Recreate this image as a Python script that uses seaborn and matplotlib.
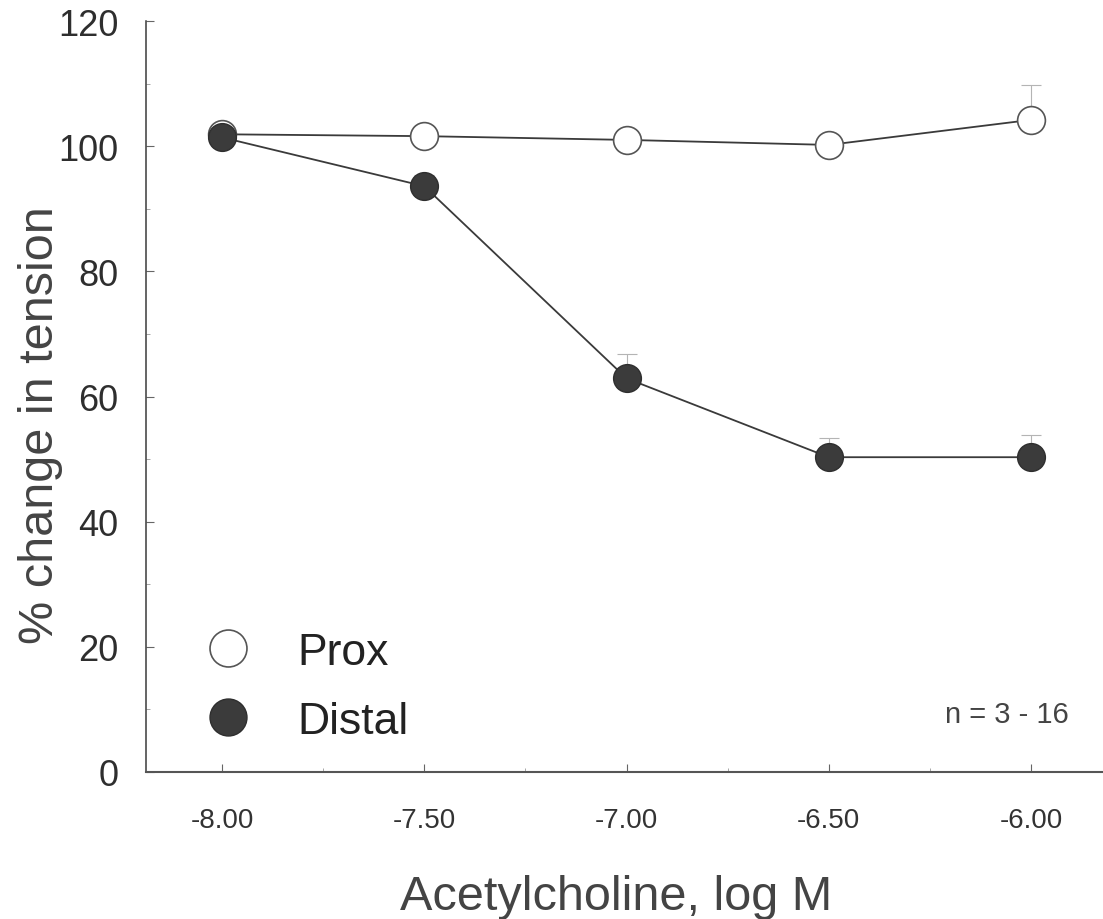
import matplotlib
matplotlib.use("Agg")
import matplotlib.pyplot as plt
import seaborn as sns
import pandas as pd
from matplotlib.lines import Line2D
from matplotlib.ticker import MultipleLocator, FixedLocator

# Acetylcholine concentration-response, proximal vs distal segments
log_conc = [-8.0, -7.5, -7.0, -6.5, -6.0]
prox_mean = [101.9, 101.6, 101.0, 100.2, 104.2]
prox_sem = [1.5, 1.2, 1.5, 1.5, 5.5]
distal_mean = [101.4, 93.6, 62.9, 50.3, 50.3]
distal_sem = [1.5, 1.8, 3.9, 3.1, 3.5]

x_ticks = [-8.0, -7.5, -7.0, -6.5, -6.0]
x_tick_labels = ["-8.00", "-7.50", "-7.00", "-6.50", "-6.00"]
y_ticks = [0, 20, 40, 60, 80, 100, 120]
series_labels = ["Prox", "Distal"]
n_note = "n = 3 - 16"

prox = pd.DataFrame({"log_conc": log_conc, "mean": prox_mean, "sem": prox_sem})
distal = pd.DataFrame({"log_conc": log_conc, "mean": distal_mean, "sem": distal_sem})

sns.set_theme(style="ticks")
plt.rcParams["font.family"] = ["Liberation Sans", "DejaVu Sans"]

W, H = 1103, 920
fig = plt.figure(figsize=(W / 100, H / 100), dpi=100)
fig.patch.set_facecolor("white")
ax = fig.add_axes([146 / W, (H - 773) / H, 957 / W, (773 - 22) / H])
ax.set_facecolor("white")

line_col = "#3a3a3a"
err_col = "#b4b4b4"

# upper error bars only (faint caps above the markers)
for df in (prox, distal):
    ax.errorbar(df["log_conc"], df["mean"],
                yerr=[[0] * len(df), df["sem"]],
                fmt="none", ecolor=err_col, elinewidth=0.8,
                capsize=7, capthick=0.8, zorder=1)

sns.lineplot(data=prox, x="log_conc", y="mean", ax=ax, color=line_col,
             linewidth=1.3, marker="o", markersize=20,
             markerfacecolor="white", markeredgecolor="#555555",
             markeredgewidth=1.2, zorder=3)
sns.lineplot(data=distal, x="log_conc", y="mean", ax=ax, color=line_col,
             linewidth=1.3, marker="o", markersize=20,
             markerfacecolor="#3b3b3b", markeredgecolor="#2e2e2e",
             markeredgewidth=1.0, zorder=4)

ax.set_xlim(-8.188, -5.822)
ax.set_ylim(0, 120)
ax.xaxis.set_major_locator(FixedLocator(x_ticks))
ax.set_xticklabels(x_tick_labels)
ax.xaxis.set_minor_locator(MultipleLocator(0.25))
ax.yaxis.set_major_locator(FixedLocator(y_ticks))
ax.yaxis.set_minor_locator(MultipleLocator(10))

ax.set_xlabel("")
ax.set_ylabel("")

for side in ("top", "right"):
    ax.spines[side].set_visible(False)
ax.spines["left"].set_color("#3a3a3a")
ax.spines["left"].set_linewidth(1.1)
ax.spines["bottom"].set_color("#555555")
ax.spines["bottom"].set_linewidth(1.5)

ax.tick_params(axis="both", which="major", direction="in", length=6,
               width=0.8, color="#666666")
ax.tick_params(axis="both", which="minor", direction="in", length=3,
               width=0.6, color="#999999")
ax.tick_params(axis="y", which="major", labelsize=26, labelcolor="#2e2e2e", pad=20)
ax.tick_params(axis="x", which="major", labelsize=20, labelcolor="#333333", pad=25)

# legend
handles = [
    Line2D([], [], ls="none", marker="o", markersize=26.6,
           markerfacecolor="white", markeredgecolor="#555555", markeredgewidth=1.2),
    Line2D([], [], ls="none", marker="o", markersize=26.6,
           markerfacecolor="#3b3b3b", markeredgecolor="#2e2e2e", markeredgewidth=1.0),
]
leg = ax.legend(handles, series_labels, loc="upper left",
                bbox_to_anchor=((207 - 146) / 957, (773 - 633) / 751),
                frameon=False, borderaxespad=0, borderpad=0,
                handlelength=0.94, handletextpad=1.1, labelspacing=0.62,
                prop={"size": 32})
for t in leg.get_texts():
    t.set_color("#222222")

ax.text((1007 - 146) / 957, (773 - 715) / 751, n_note, transform=ax.transAxes,
        ha="center", va="center", fontsize=21, color="#444444")

# axis titles
fig.text(616 / W, 1 - 910 / H, "Acetylcholine, log M", ha="center",
         va="baseline", fontsize=35, color="#444444")
fig.text(53 / W, 1 - 425 / H, "% change in tension", rotation=90,
         rotation_mode="anchor", ha="center", va="baseline",
         fontsize=35, color="#444444")

fig.savefig("out.png", dpi=100, facecolor="white")
